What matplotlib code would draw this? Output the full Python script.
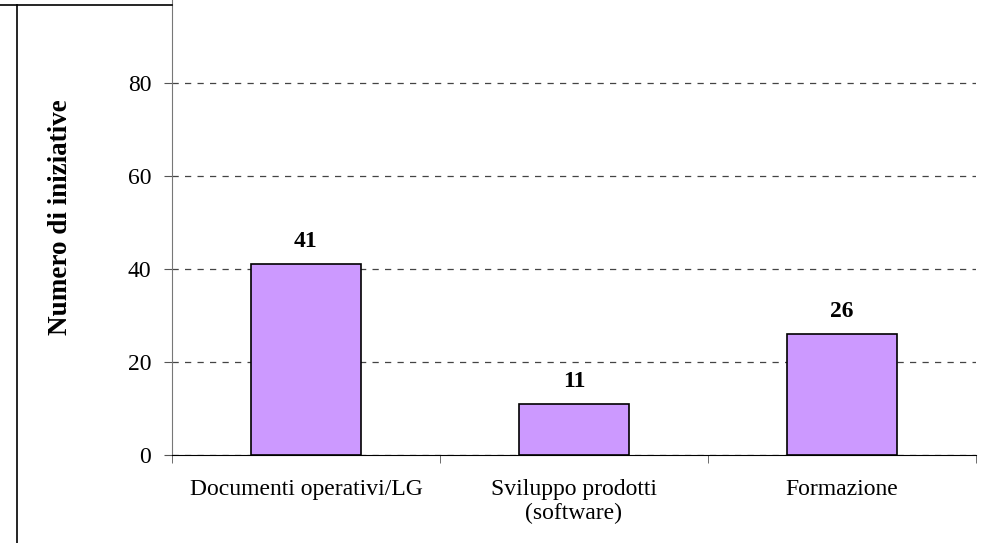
import matplotlib.pyplot as plt
from matplotlib.lines import Line2D

categories = ['Documenti operativi/LG', 'Sviluppo prodotti\n(software)', 'Formazione']
values = [41, 11, 26]
yticks = [0, 20, 40, 60, 80]

plt.rcParams['font.family'] = 'Liberation Serif'

fig = plt.figure(figsize=(9.87, 5.43), dpi=100)
ax = fig.add_axes([172/987, 1 - 455/543, (976-172)/987, 455/543])

x = range(len(values))
ax.bar(x, values, width=0.41, color='#CC99FF', edgecolor='black', linewidth=1.2, zorder=3)
for i, v in enumerate(values):
    ax.text(i, v + 2.6, str(v), ha='center', va='bottom', fontsize=17, fontweight='bold')

ax.set_xlim(-0.5, 2.5)
ax.set_ylim(0, 97.8)
ax.set_yticks(yticks)
ax.set_xticks(x)
ax.set_xticklabels(categories, fontsize=17, linespacing=1.2)
ax.set_xticks([-0.5, 0.5, 1.5, 2.5], minor=True)
ax.tick_params(axis='x', which='major', length=0, pad=17)
ax.tick_params(axis='x', which='minor', length=6, direction='out', color='#555555')
ax.tick_params(axis='y', labelsize=17, length=6, pad=9, color='#555555')
ax.yaxis.grid(True, linestyle=(0, (5, 5)), color='#444444', linewidth=0.9, zorder=0)
ax.set_ylabel('Numero di iniziative', fontsize=19.5, fontweight='bold')
ax.yaxis.set_label_coords(-0.123, 0.523)

for s in ['top', 'right']:
    ax.spines[s].set_visible(False)
ax.spines['left'].set_color('#777777')
ax.spines['bottom'].set_color('black')

# outer frame bits
fig.add_artist(Line2D([17/987, 17/987], [0, 1 - 5/543], color='black', linewidth=1.2))
fig.add_artist(Line2D([0, 172/987], [1 - 5/543, 1 - 5/543], color='black', linewidth=1.2))

fig.savefig('out.png', dpi=100)
